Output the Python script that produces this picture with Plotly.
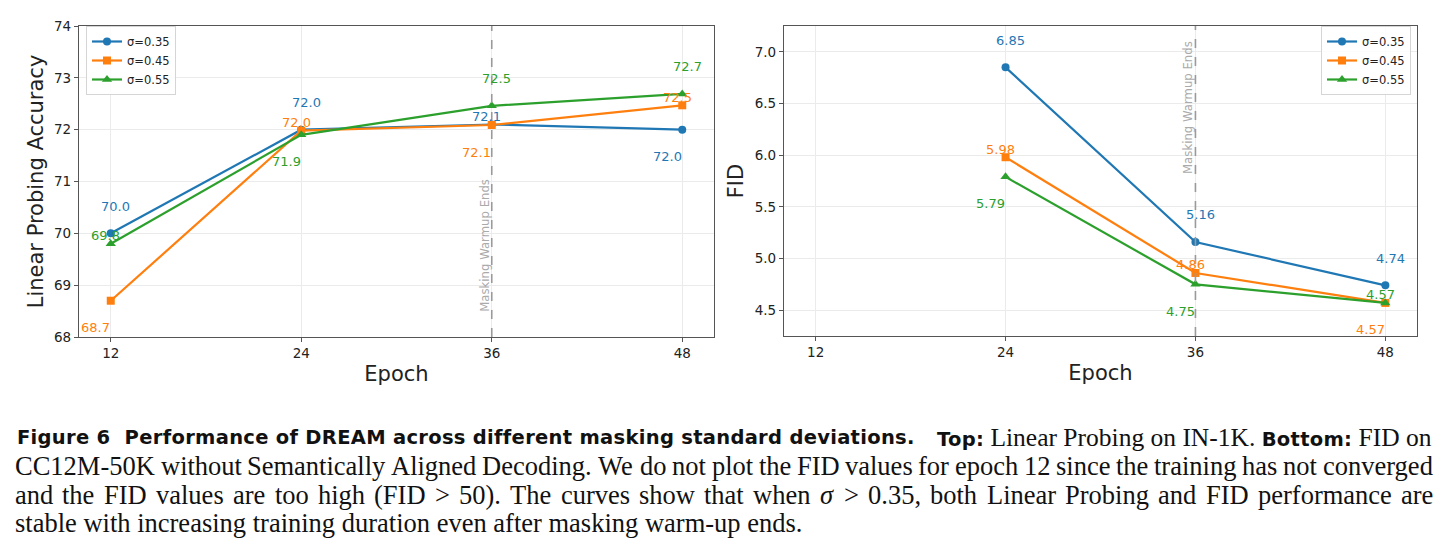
import plotly.graph_objects as go

# ---------------- data ----------------
epochs = [12, 24, 36, 48]
lp_s035 = [70.0, 72.0, 72.1, 72.0]
lp_s045 = [68.7, 71.98, 72.09, 72.47]
lp_s055 = [69.8, 71.9, 72.46, 72.69]

fid_epochs = [24, 36, 48]
fid_s035 = [6.85, 5.16, 4.74]
fid_s045 = [5.98, 4.86, 4.57]
fid_s055 = [5.79, 4.75, 4.57]

series_names = ["σ=0.35", "σ=0.45", "σ=0.55"]
epoch_ticks = [12, 24, 36, 48]
lp_ticks = [68, 69, 70, 71, 72, 73, 74]
fid_ticks = [4.5, 5.0, 5.5, 6.0, 6.5, 7.0]
warmup_epoch = 36

caption_line2 = "CC12M-50K without Semantically Aligned Decoding. We do not plot the FID values for epoch 12 since the training has not converged"
caption_line3 = "and the FID values are too high (FID > 50). The curves show that when <i>σ</i> > 0.35, both Linear Probing and FID performance are"
caption_line4 = "stable with increasing training duration even after masking warm-up ends."

# ---------------- style ----------------
W, H = 1442, 558
colors = ["#1f77b4", "#ff7f0e", "#2ca02c"]
symbols = ["circle", "square", "triangle-up"]
msizes = [8, 8, 9]

OFF = {"up": (5, 27), "mid": (-5, 8), "down": (-15, -27)}
lp_pos = [["up", "up", "mid", "down"],
          ["down", "mid", "down", "mid"],
          ["mid", "down", "up", "up"]]
fid_pos = [["up", "up", "up"],
           ["mid", "mid", "down"],
           ["down", "down", "mid"]]

def px_x(p):
    return p / W

def px_y(p):
    return 1 - p / H

# Times-like advance widths (per 1000 em) to approximate justification
TW = {" ": 250, "!": 333, "(": 333, ")": 333, ",": 250, "-": 333, ".": 250, ":": 278,
      ">": 564, "=": 564, "σ": 560}
for ch in "0123456789":
    TW[ch] = 500
TW.update(dict(zip("ABCDEFGHIJKLMNOPQRSTUVWXYZ",
                   [722, 667, 667, 722, 611, 556, 722, 722, 333, 389, 722, 611, 889,
                    722, 722, 556, 722, 667, 556, 611, 722, 722, 944, 722, 722, 611])))
TW.update(dict(zip("abcdefghijklmnopqrstuvwxyz",
                   [444, 500, 444, 500, 444, 333, 500, 500, 278, 278, 500, 278, 778,
                    500, 500, 500, 500, 333, 389, 278, 500, 500, 722, 500, 500, 444])))

def word_width(word, size):
    plain = word.replace("<i>", "").replace("</i>", "")
    return sum(TW.get(c, 500) for c in plain) * size / 1000.0

fig = go.Figure()

lp_series = [lp_s035, lp_s045, lp_s055]
fid_series = [fid_s035, fid_s045, fid_s055]

for i, (name, vals) in enumerate(zip(series_names, lp_series)):
    fig.add_trace(go.Scatter(
        x=epochs, y=vals, name=name, mode="lines+markers",
        line=dict(color=colors[i], width=2.2),
        marker=dict(symbol=symbols[i], size=msizes[i], color=colors[i]),
        xaxis="x", yaxis="y", legend="legend"))

for i, (name, vals) in enumerate(zip(series_names, fid_series)):
    fig.add_trace(go.Scatter(
        x=fid_epochs, y=vals, name=name, mode="lines+markers",
        line=dict(color=colors[i], width=2.2),
        marker=dict(symbol=symbols[i], size=msizes[i], color=colors[i]),
        xaxis="x2", yaxis="y2", legend="legend2"))

annotations = []
for i, vals in enumerate(lp_series):
    for j, (ex, v) in enumerate(zip(epochs, vals)):
        dx, dy = OFF[lp_pos[i][j]]
        annotations.append(dict(
            x=ex, y=v, xref="x", yref="y", text=f"{v:.1f}", showarrow=False,
            xshift=dx, yshift=dy, font=dict(size=13, color=colors[i])))
for i, vals in enumerate(fid_series):
    for j, (ex, v) in enumerate(zip(fid_epochs, vals)):
        dx, dy = OFF[fid_pos[i][j]]
        annotations.append(dict(
            x=ex, y=v, xref="x2", yref="y2", text=f"{v:.2f}", showarrow=False,
            xshift=dx, yshift=dy, font=dict(size=13, color=colors[i])))

annotations.append(dict(x=warmup_epoch, y=69.775, xref="x", yref="y",
                        text="Masking Warmup Ends", textangle=-90, showarrow=False,
                        xshift=-7, font=dict(size=11.7, color="#aaaaaa")))
annotations.append(dict(x=warmup_epoch, y=6.466, xref="x2", yref="y2",
                        text="Masking Warmup Ends", textangle=-90, showarrow=False,
                        xshift=-7.5, font=dict(size=11.7, color="#aaaaaa")))

# ---------------- caption ----------------
serif = "Liberation Serif"
cap_size = 26.5
line_y = [437, 466, 495, 523]
cap_left, cap_right = 14, 1432
bold_style = "font-family:DejaVu Sans;font-size:19.5px;letter-spacing:0.3px"

def add_text(x, y, text, anchor="left", size=cap_size):
    annotations.append(dict(x=px_x(x), y=px_y(y), xref="paper", yref="paper",
                            xanchor=anchor, yanchor="middle", text=text, showarrow=False,
                            borderpad=0,
                            font=dict(family=serif, size=size, color="#111111")))

# line 1: bold sans lead-in (left) + mixed tail (right-aligned)
add_text(16, line_y[0],
         f'<span style="{bold_style}"><b>Figure 6  Performance of DREAM across different masking standard deviations.</b></span>')
add_text(cap_right + 1, line_y[0],
         f'<span style="{bold_style}"><b>Top:</b></span> Linear Probing on IN-1K. '
         f'<span style="{bold_style}"><b>Bottom:</b></span> FID on', anchor="right", size=25.5)

# lines 2 & 3: justified, word by word
for line, y in ((caption_line2, line_y[1]), (caption_line3, line_y[2])):
    words = line.split(" ")
    widths = [word_width(w, cap_size) for w in words]
    gap = (cap_right - cap_left - sum(widths)) / (len(words) - 1)
    x = cap_left
    for w, wd in zip(words, widths):
        add_text(x, y, w)
        x += wd + gap

# line 4: ragged
add_text(cap_left, line_y[3], caption_line4)

shapes = [
    dict(type="line", xref="x", yref="y domain", x0=warmup_epoch, x1=warmup_epoch, y0=0, y1=1,
         line=dict(color="#9a9a9a", width=1.6, dash="dash")),
    dict(type="line", xref="x2", yref="y2 domain", x0=warmup_epoch, x1=warmup_epoch, y0=0, y1=1,
         line=dict(color="#9a9a9a", width=1.6, dash="dash")),
]

ax = dict(showline=True, linecolor="#555555", linewidth=1.2, mirror=True,
          ticks="outside", ticklen=4, tickcolor="#555555", tickwidth=1,
          showgrid=True, gridcolor="#ebebeb", gridwidth=1, zeroline=False,
          automargin=False,
          tickfont=dict(size=13.5, color="#222222"))

fig.update_layout(
    width=W, height=558,
    margin=dict(l=0, r=0, t=0, b=0, autoexpand=False),
    paper_bgcolor="white", plot_bgcolor="white",
    font=dict(family="DejaVu Sans", color="#222222"),
    xaxis=dict(ax, domain=[px_x(79), px_x(714)], range=[10, 50], tickvals=epoch_ticks,
               anchor="y", title=dict(text="Epoch", font=dict(size=21), standoff=6)),
    yaxis=dict(ax, domain=[px_y(337), px_y(26)], range=[68, 74], tickvals=lp_ticks,
               anchor="x", title=dict(text="Linear Probing Accuracy", font=dict(size=21), standoff=4)),
    xaxis2=dict(ax, domain=[px_x(784), px_x(1417)], range=[10, 50], tickvals=epoch_ticks,
                anchor="y2", title=dict(text="Epoch", font=dict(size=21), standoff=6)),
    yaxis2=dict(ax, domain=[px_y(336), px_y(26)], range=[4.25, 7.25], tickvals=fid_ticks,
                tickformat=".1f", anchor="x2",
                title=dict(text="FID", font=dict(size=21), standoff=5)),
    legend=dict(x=px_x(86), y=px_y(26), xanchor="left", yanchor="top",
                bgcolor="rgba(255,255,255,0.85)", bordercolor="#d5d5d5", borderwidth=1,
                font=dict(size=11.5, color="#222222"), tracegroupgap=0),
    legend2=dict(x=px_x(1411), y=px_y(26), xanchor="right", yanchor="top",
                 bgcolor="rgba(255,255,255,0.85)", bordercolor="#d5d5d5", borderwidth=1,
                 font=dict(size=11.5, color="#222222"), tracegroupgap=0),
    annotations=annotations,
    shapes=shapes,
    showlegend=True,
)

fig.write_html("out.html")
